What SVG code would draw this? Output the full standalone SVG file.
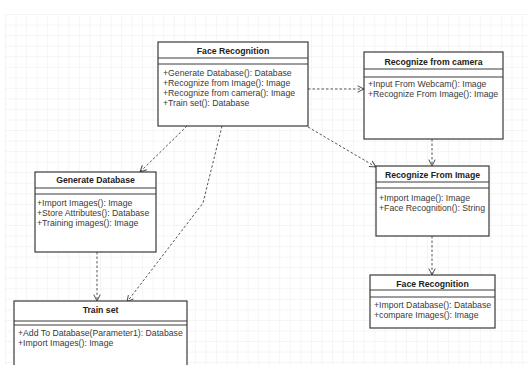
<svg xmlns="http://www.w3.org/2000/svg" width="529" height="365" viewBox="0 0 529 365">
<defs>
<pattern id="grid" x="5" y="14" width="10.55" height="10.55" patternUnits="userSpaceOnUse">
<path d="M0 0H10.55M0 0V10.55" fill="none" stroke="#ececec" stroke-width="1"/>
</pattern>
<marker id="arr" viewBox="0 0 10 10" refX="9" refY="5" markerWidth="8" markerHeight="8" orient="auto" markerUnits="userSpaceOnUse">
<path d="M1 1L9 5L1 9" fill="none" stroke="#444" stroke-width="1.2"/>
</marker>
<style>
.box{fill:#fff;stroke:#3a3a3a;stroke-width:1.2}
.sep{stroke:#3a3a3a;stroke-width:1}
.t{font-family:"Liberation Sans",Arial,sans-serif;font-size:8.7px;font-weight:bold;fill:#222;text-anchor:middle}
.m{font-family:"Liberation Sans",Arial,sans-serif;font-size:8.7px;fill:#3a3a3a}
.c{fill:none;stroke:#555;stroke-width:1;stroke-dasharray:2.5 2;marker-end:url(#arr)}
</style>
</defs>
<rect x="0" y="0" width="529" height="365" fill="#fff"/>
<rect x="5" y="14" width="524" height="351" fill="url(#grid)"/>
<g id="connectors">
<path class="c" d="M187 126L140 172"/>
<path class="c" d="M222 126L203 203L127 302"/>
<path class="c" d="M308 89L364 89"/>
<path class="c" d="M308 127L376 167"/>
<path class="c" d="M432 139L432 166"/>
<path class="c" d="M432 236L432 275"/>
<path class="c" d="M97 252L97 301"/>
</g>
<g id="face-recognition">
<rect class="box" x="158" y="42" width="150" height="84"/>
<line class="sep" x1="158" y1="58" x2="308" y2="58"/>
<line class="sep" x1="158" y1="64" x2="308" y2="64"/>
<text class="t" x="233" y="54">Face Recognition</text>
<text class="m" x="163" y="76">+Generate Database(): Database</text>
<text class="m" x="163" y="86">+Recognize from Image(): Image</text>
<text class="m" x="163" y="96">+Recognize from camera(): Image</text>
<text class="m" x="163" y="106">+Train set(): Database</text>
</g>
<g id="recognize-from-camera">
<rect class="box" x="364" y="52" width="139" height="87"/>
<line class="sep" x1="364" y1="69" x2="503" y2="69"/>
<line class="sep" x1="364" y1="77" x2="503" y2="77"/>
<text class="t" x="433.5" y="65">Recognize from camera</text>
<text class="m" x="368" y="86.5">+Input From Webcam(): Image</text>
<text class="m" x="368" y="96.5">+Recognize From Image(): Image</text>
</g>
<g id="generate-database">
<rect class="box" x="35" y="172" width="121" height="80"/>
<line class="sep" x1="35" y1="188" x2="156" y2="188"/>
<line class="sep" x1="35" y1="194" x2="156" y2="194"/>
<text class="t" x="95.5" y="183">Generate Database</text>
<text class="m" x="37" y="206">+Import Images(): Image</text>
<text class="m" x="37" y="216">+Store Attributes(): Database</text>
<text class="m" x="37" y="226">+Training images(): Image</text>
</g>
<g id="recognize-from-image">
<rect class="box" x="376" y="166" width="113" height="70"/>
<line class="sep" x1="376" y1="182" x2="489" y2="182"/>
<line class="sep" x1="376" y1="188" x2="489" y2="188"/>
<text class="t" x="432.5" y="178">Recognize From Image</text>
<text class="m" x="379" y="200.5">+Import Image(): Image</text>
<text class="m" x="379" y="210.5">+Face Recognition(): String</text>
</g>
<g id="face-recognition-2">
<rect class="box" x="370" y="275" width="125" height="53"/>
<line class="sep" x1="370" y1="290" x2="495" y2="290"/>
<line class="sep" x1="370" y1="297" x2="495" y2="297"/>
<text class="t" x="432.5" y="286.5">Face Recognition</text>
<text class="m" x="374" y="308">+Import Database(): Database</text>
<text class="m" x="374" y="318">+compare Images(): Image</text>
</g>
<g id="train-set">
<rect class="box" x="14" y="301" width="173" height="80"/>
<line class="sep" x1="14" y1="321" x2="187" y2="321"/>
<line class="sep" x1="14" y1="325" x2="187" y2="325"/>
<text class="t" x="100.5" y="313">Train set</text>
<text class="m" x="18" y="336">+Add To Database(Parameter1): Database</text>
<text class="m" x="18" y="346">+Import Images(): Image</text>
</g>
</svg>
